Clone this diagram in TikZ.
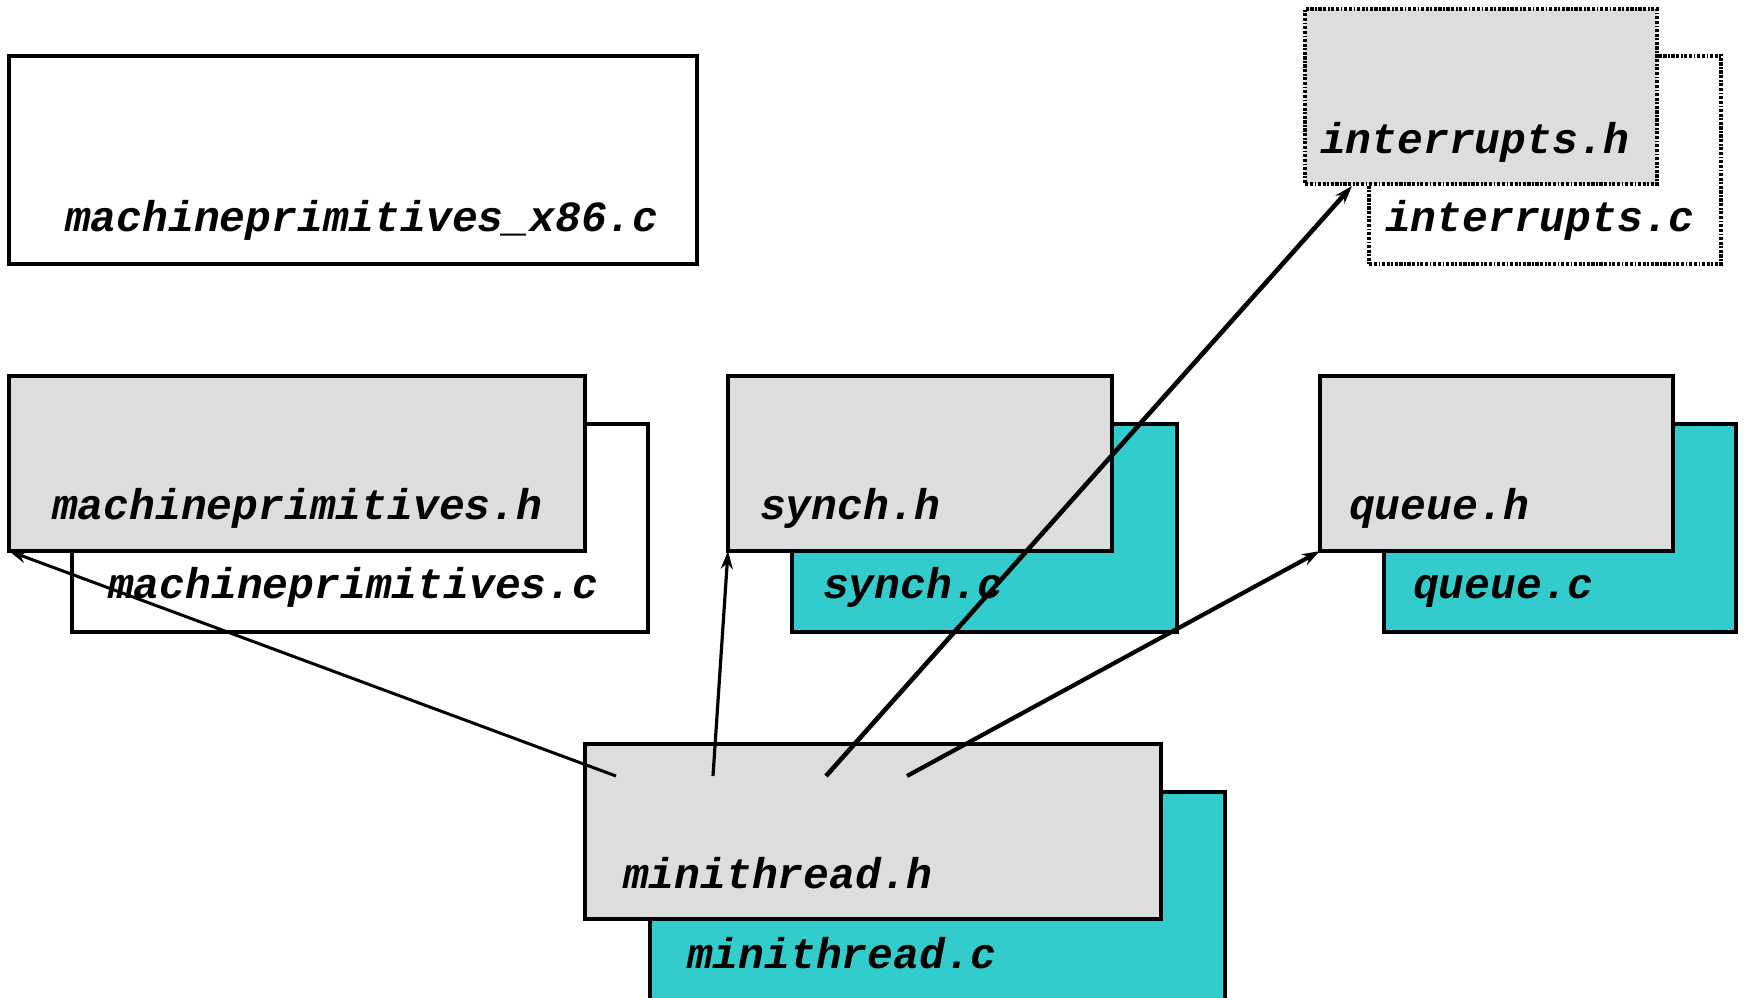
\documentclass[tikz,border=0pt]{standalone}
\usepackage{fontspec}
\setmonofont{Liberation Mono}
\usetikzlibrary{arrows.meta}
\definecolor{hgray}{HTML}{DDDDDD}
\definecolor{cteal}{HTML}{33CCCC}
\begin{document}
\begin{tikzpicture}[
  x=0.5pt, y=-0.5pt,
  every node/.style={inner sep=0pt, outer sep=0pt, anchor=north west},
  %  Styles for the file boxes
  fname/.style={font=\fontsize{21.5}{24}\selectfont\ttfamily\bfseries\itshape, anchor=base west},
  file/.style={rectangle, draw=black, line width=1.7pt},
  hfile/.style={file, fill=hgray, minimum height=87.5pt},
  cfile/.style={file, fill=cteal, minimum height=104pt},
  wfile/.style={file, fill=white, minimum height=104pt},
  dotfile/.style={dash pattern=on 1.6pt off 0.8pt on 1.6pt off 0.8pt on 0.8pt off 0.8pt},
  dep/.style={draw=black, -{Stealth[length=9pt, width=6pt]}}
]
\path[use as bounding box, clip] (0,0) rectangle (1744,997);

%  Top row
\node[wfile, minimum width=344pt,
  label={[fname, xshift=28pt, yshift=16.5pt]south west:machineprimitives\_x86.c}]
  (mpx) at (9,56) {};
\node[wfile, dotfile, minimum width=176pt,
  label={[fname, xshift=8pt, yshift=16.5pt]south west:interrupts.c}]
  (intc) at (1369,56) {};
\node[hfile, dotfile, minimum width=176pt,
  label={[fname, xshift=7.5pt, yshift=15.5pt]south west:interrupts.h}]
  (inth) at (1305,9) {};

%  Middle row
\node[wfile, minimum width=288pt,
  label={[fname, xshift=18pt, yshift=17pt]south west:machineprimitives.c}]
  (mpc) at (72,424) {};
\node[hfile, minimum width=288pt,
  label={[fname, xshift=21.5pt, yshift=16pt]south west:machineprimitives.h}]
  (mph) at (9,376) {};
\node[cfile, minimum width=192.5pt,
  label={[fname, xshift=15.5pt, yshift=17pt]south west:synch.c}]
  (sync) at (792,424) {};
\node[hfile, minimum width=192pt,
  label={[fname, xshift=16pt, yshift=16pt]south west:synch.h}]
  (synh) at (728,376) {};
\node[cfile, minimum width=176pt,
  label={[fname, xshift=14.5pt, yshift=17pt]south west:queue.c}]
  (quec) at (1384,424) {};
\node[hfile, minimum width=176.5pt,
  label={[fname, xshift=14.5pt, yshift=16pt]south west:queue.h}]
  (queh) at (1320,376) {};

%  Bottom row
\node[cfile, minimum width=287.5pt,
  label={[fname, xshift=18.5pt, yshift=16pt]south west:minithread.c}]
  (mtc) at (650,792) {};
\node[hfile, minimum width=288pt,
  label={[fname, xshift=19pt, yshift=15.5pt]south west:minithread.h}]
  (mth) at (585,744) {};

%  Dependencies of minithread.h
\coordinate (mt1) at (616,776);
\coordinate (mt2) at (713,776);
\coordinate (mt3) at (826,776);
\coordinate (mt4) at (907,776);
\coordinate (inttip) at (1352,186);

\draw[dep, line width=1.5pt] (mt1) -- (mph.south west);
\draw[dep, line width=1.6pt] (mt2) -- (synh.south west);
\draw[dep, line width=2.3pt] (mt3) -- (inttip);
\draw[dep, line width=2.1pt] (mt4) -- (queh.south west);
\end{tikzpicture}
\end{document}
